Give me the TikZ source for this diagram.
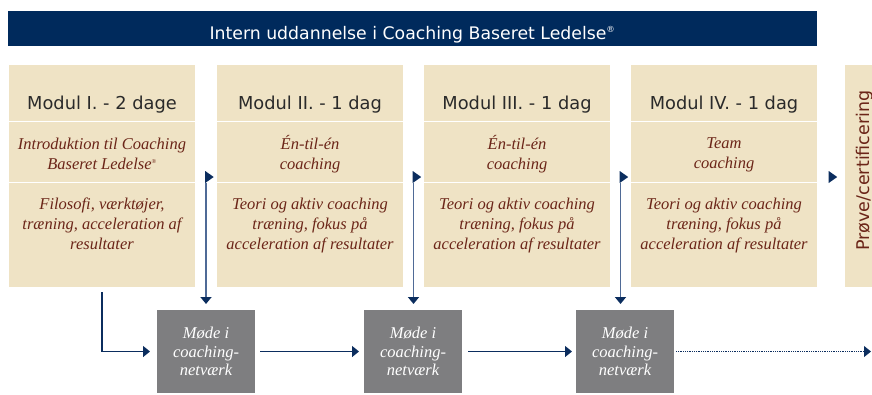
\documentclass[tikz,border=0pt]{standalone}
\usepackage{fontspec}
\setmainfont{Liberation Serif}
\setsansfont{DejaVu Sans}
\usetikzlibrary{arrows.meta}
\definecolor{beige}{HTML}{EFE3C5}
\definecolor{navy}{HTML}{002A5C}
\definecolor{tipnavy}{HTML}{0B2D5E}
\definecolor{slate}{HTML}{4F6A96}
\definecolor{brown}{HTML}{6B2518}
\definecolor{headtext}{HTML}{2A2A2A}
\definecolor{boxgray}{HTML}{7E7E80}
\begin{document}
\begin{tikzpicture}[x=1pt,y=-1pt,
  panel/.style={fill=beige,inner sep=0pt,outer sep=0pt,anchor=north west,minimum width=186pt},
  headtxt/.style={font=\sffamily\fontsize{17.8}{20}\selectfont,text=headtext,anchor=base,inner sep=0pt},
  subtxt/.style={font=\itshape\fontsize{16.5}{20}\selectfont,text=brown,align=center,inner sep=0pt},
  meet/.style={fill=boxgray,minimum width=98pt,minimum height=83pt,inner sep=0pt,outer sep=0pt,text=white,font=\itshape\fontsize{16.5}{18.7}\selectfont,align=center},
  tri/.style={fill=tipnavy},
  vline/.style={draw=slate,line width=1.6pt,shorten >=6pt,-{Triangle[width=11pt,length=7pt,color=tipnavy]}},
  hline/.style={draw=tipnavy,line width=1.2pt,-{Triangle[width=11pt,length=7pt]}},
  dline/.style={draw=tipnavy,line width=0.8pt,dash pattern=on 1pt off 0.8pt,-{Triangle[width=11pt,length=7pt]}}
]
\useasboundingbox (0,0) rectangle (872,394);
% title bar
\node[fill=navy,anchor=north west,minimum width=809pt,minimum height=35pt,inner sep=0pt] (title) at (8,11) {};
\node[font=\sffamily\fontsize{17.3}{20}\selectfont,text=white,anchor=base,inner sep=0pt] (titletxt) at (412.5,39) {Intern uddannelse i Coaching Baseret Ledelse\textsuperscript{\fontsize{8.5}{8.5}\selectfont ®}};
% modules
\foreach \i/\x in {1/9,2/217,3/424,4/631}{
  \node[panel,minimum height=56pt] (m\i h) at (\x,65) {};
  \node[panel,minimum height=60pt] (m\i s) at (\x,122) {};
  \node[panel,minimum height=104pt] (m\i d) at (\x,183) {};
}
\node[headtxt] (h1) at (m1h.center |- 0,109) {Modul I. - 2 dage};
\node[headtxt] (h2) at (m2h.center |- 0,109) {Modul II. - 1 dag};
\node[headtxt] (h3) at (m3h.center |- 0,109) {Modul III. - 1 dag};
\node[headtxt] (h4) at (m4h.center |- 0,109) {Modul IV. - 1 dag};
\node[subtxt] (s1) at ([yshift=-2pt]m1s.center) {Introduktion til Coaching\\Baseret Ledelse\textsuperscript{\fontsize{6}{6}\selectfont ®}};
\node[subtxt] (s2) at ([yshift=-2pt]m2s.center) {Én-til-én\\coaching};
\node[subtxt] (s3) at ([yshift=-2pt]m3s.center) {Én-til-én\\coaching};
\node[subtxt] (s4) at ([yshift=-2.5pt]m4s.center) {Team\\coaching};
\node[subtxt,anchor=north] (d1) at (m1d.center |- 0,198) {Filosofi, værktøjer,\\træning, acceleration af\\resultater};
\node[subtxt,anchor=north] (d2) at (m2d.center |- 0,198) {Teori og aktiv coaching\\træning, fokus på\\acceleration af resultater};
\node[subtxt,anchor=north] (d3) at (m3d.center |- 0,198) {Teori og aktiv coaching\\træning, fokus på\\acceleration af resultater};
\node[subtxt,anchor=north] (d4) at (m4d.center |- 0,198) {Teori og aktiv coaching\\træning, fokus på\\acceleration af resultater};
% certification panel
\node[panel,minimum width=40pt,minimum height=222pt] (m5) at (845,65) {};
\node[rotate=90,anchor=base,font=\sffamily\fontsize{17.5}{20}\selectfont,text=brown,inner sep=0pt] (cert) at (869.5,170.5) {Prøve/certificering};
% meeting boxes
\node[meet] (g1) at (206,351.5) {Møde i\\coaching-\\netværk};
\node[meet] (g2) at (413,351.5) {Møde i\\coaching-\\netværk};
\node[meet] (g3) at (625,351.5) {Møde i\\coaching-\\netværk};
% triangle markers
\coordinate (t1) at (206,177);
\coordinate (t2) at (413.5,177);
\coordinate (t3) at (620.5,177);
\coordinate (t4) at (829.5,177);
\foreach \t in {t1,t2,t3,t4}{
  \fill[tri] ([xshift=-0.8pt,yshift=6pt]\t) -- ++(8.5,6) -- ++(-8.5,6) -- cycle;
}
% vertical connectors
\draw[vline] ([yshift=-6pt]t1) -- (t1 |- g1.north);
\draw[vline] ([yshift=-6pt]t2) -- (t2 |- g2.north);
\draw[vline] ([yshift=-6pt]t3) -- (t3 |- g3.north);
% module I to first meeting
\coordinate (st) at ([yshift=-5pt]m1d.south);
\draw[hline,shorten >=7pt] (st) |- (g1.west);
\draw[hline,shorten <=5pt,shorten >=5pt] (g1.east) -- (g2.west);
\draw[hline,shorten <=6pt,shorten >=4pt] (g2.east) -- (g3.west);
\coordinate (endp) at (871,351.5);
\draw[dline,shorten <=2pt] (g3.east) -- (endp);
\end{tikzpicture}
\end{document}
